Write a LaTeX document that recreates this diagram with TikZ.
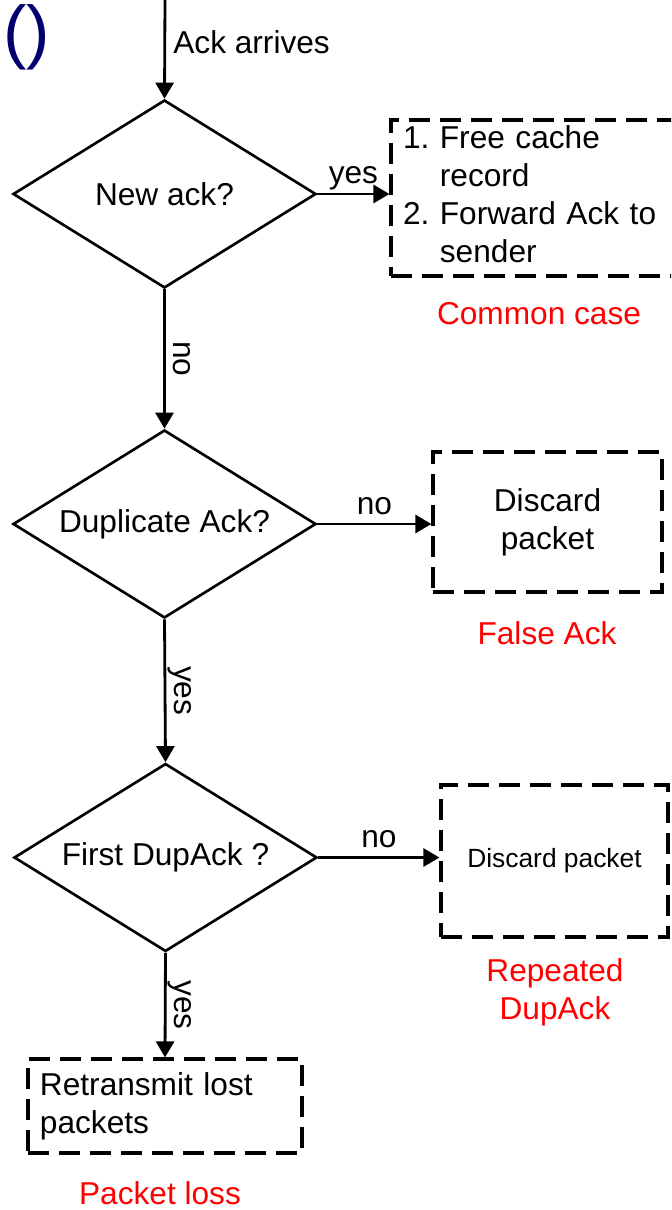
\documentclass[tikz,border=0pt]{standalone}
\usepackage{fontspec}
\setmainfont{Liberation Sans}
\usetikzlibrary{shapes.geometric,arrows.meta}
\definecolor{navy}{RGB}{0,0,110}
\begin{document}
\begin{tikzpicture}[
		font=\fontsize{18}{21.6}\selectfont,
		arr/.style={line width=1.6pt, -{Triangle[length=0.32cm,width=0.36cm]}},
		decision/.style={draw, line width=1.5pt, shape=diamond, aspect=1.6, inner sep=0pt,
			minimum width=6.06cm, minimum height=3.76cm},
		dbox/.style={draw, line width=1.8pt, dash pattern=on 0.42cm off 0.2cm, inner sep=0pt},
		hlabel/.style={midway, anchor=base, yshift=0.2cm},
		vlabel/.style={midway, xshift=0.18cm, rotate=-90, anchor=base},
		caption/.style={text=red, align=center, inner sep=0pt}
	]
		\useasboundingbox (0,0) rectangle (13.42,-24.2);
		\clip (0,0) rectangle (13.42,-24.2);

		\node[text=navy, font=\fontsize{40}{48}\selectfont, inner sep=0pt] (paren) at (0.54,-0.74) {()};

		\coordinate (start) at (3.3,0);
		\node[anchor=west, inner sep=0pt] (arrives) at (3.46,-0.84) {Ack arrives};

		\node[decision] (d1) at (3.29,-3.88) {New ack?};
		\node[decision] (d2) at (3.29,-10.48) {Duplicate Ack?};
		\node[decision] (d3) at (3.31,-17.15) {First DupAck ?};

		\node[dbox, text width=6.1cm, inner xsep=0.24cm, minimum height=3.12cm, align=left] (box1) at (11.11,-3.96)
			{\begin{tabular}{@{}l@{\ }l@{}}1. & Free cache\\ & record\\ 2. & Forward Ack to\\ & sender\end{tabular}};
		\node[dbox, minimum width=4.58cm, minimum height=2.8cm, align=center] (box2) at (10.95,-10.44) {Discard\\packet};
		\node[dbox, minimum width=4.54cm, minimum height=3.04cm, font=\fontsize{15}{18}\selectfont] (box3) at (11.09,-17.22) {Discard packet};
		\node[dbox, text width=5.0cm, inner xsep=0.24cm, minimum height=1.88cm, align=left] (box4) at (3.3,-22.12) {Retransmit lost\\packets};

		\node[caption] (common) at (10.78,-6.28) {Common case};
		\node[caption] (falseack) at (10.94,-12.66) {False Ack};
		\node[caption] (repeated) at (11.1,-19.84) {Repeated\\DupAck};
		\node[caption] (loss) at (3.2,-23.86) {Packet loss};

		\draw[arr] (start) -- (d1.north);
		\draw[arr] (d1.east) -- (d1.east -| box1.west) node[hlabel] {yes};
		\draw[arr] (d1.south) -- (d2.north) node[vlabel] {no};
		\draw[arr] (d2.east) -- (d2.east -| box2.west) node[hlabel] {no};
		\draw[arr] (d2.south) -- (d3.north) node[vlabel] {yes};
		\draw[arr] (d3.east) -- (d3.east -| box3.west) node[hlabel] {no};
		\draw[arr] (d3.south) -- (box4.north) node[vlabel] {yes};
	\end{tikzpicture}
\end{document}
